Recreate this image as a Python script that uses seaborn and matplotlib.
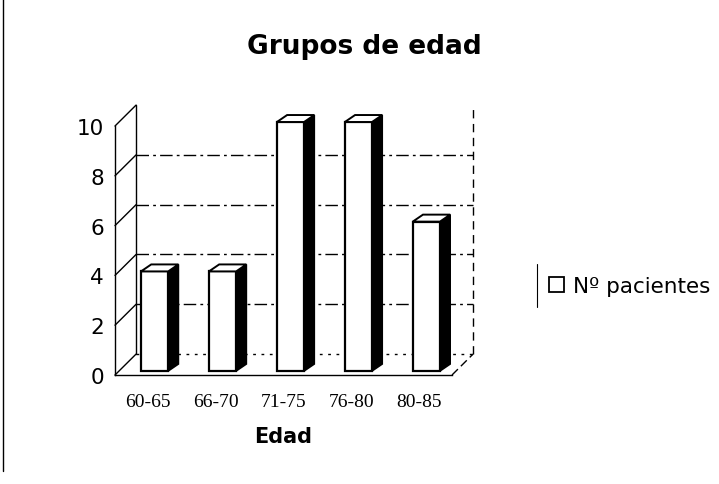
import matplotlib
matplotlib.use('Agg')
import matplotlib.pyplot as plt
import matplotlib.transforms as mtransforms
import seaborn as sns
import pandas as pd
from matplotlib.patches import Polygon, Patch
from matplotlib.lines import Line2D

# datos
categorias = ['60-65', '66-70', '71-75', '76-80', '80-85']
pacientes = [4, 4, 10, 10, 6]
yticks = [0, 2, 4, 6, 8, 10]

sns.set_style('white')
plt.rcParams['font.family'] = ['DejaVu Sans']
for k in ['text.color', 'axes.labelcolor', 'xtick.color', 'ytick.color']:
    plt.rcParams[k] = 'black'

fig = plt.figure(figsize=(7.19, 4.85), dpi=100)
ax = fig.add_axes([115 / 719, 109 / 485, 337 / 719, 249 / 485])

df = pd.DataFrame({'Edad': categorias, 'Nº pacientes': pacientes})
sns.barplot(data=df, x='Edad', y='Nº pacientes', color='white', saturation=1,
            edgecolor='black', linewidth=1.6, width=0.4, ax=ax, zorder=3)

xmin, xmax = -0.48, 4.48
ax.set_xlim(xmin, xmax)
ax.set_ylim(0, 10)

# profundidad de las paredes (unidades de datos)
dxw, dyw = 0.31, 0.84
# profundidad de las barras
dxb, dyb = 0.15, 0.28

kw = dict(color='black', clip_on=False)
# pared del fondo con lineas de division
for y in yticks:
    if y < 10:
        ls = (0, (9, 3, 2, 3)) if y > 0 else (0, (2, 4))
        ax.plot([xmin + dxw, xmax + dxw], [y + dyw, y + dyw], lw=1.0, ls=ls, zorder=1, **kw)
    ax.plot([xmin, xmin + dxw], [y, y + dyw], lw=1.0, zorder=1, **kw)
ax.plot([xmin + dxw, xmin + dxw], [dyw, 10 + dyw], lw=1.0, zorder=1, **kw)
ax.plot([xmax + dxw, xmax + dxw], [dyw, 10 + dyw], lw=1.0, ls=(0, (6, 4)), zorder=1, **kw)
ax.plot([xmax, xmax + dxw], [0, dyw], lw=1.0, ls=(0, (6, 3)), zorder=1, **kw)

# las barras van un poco hacia el fondo
tr = mtransforms.offset_copy(ax.transData, fig=fig, x=7, y=4, units='dots')
for p in list(ax.patches):
    x0, w, h = p.get_x(), p.get_width(), p.get_height()
    p.set_transform(tr)
    p.set_clip_on(False)
    side = [(x0 + w, 0), (x0 + w, h), (x0 + w + dxb, h + dyb), (x0 + w + dxb, dyb)]
    top = [(x0, h), (x0 + w, h), (x0 + w + dxb, h + dyb), (x0 + dxb, h + dyb)]
    ax.add_patch(Polygon(side, closed=True, facecolor='black', edgecolor='black', lw=1.2,
                         zorder=2.5, transform=tr, clip_on=False))
    ax.add_patch(Polygon(top, closed=True, facecolor='white', edgecolor='black', lw=1.4,
                         zorder=3.5, transform=tr, clip_on=False))

sns.despine(ax=ax, top=True, right=True)
for s in ['left', 'bottom']:
    ax.spines[s].set_linewidth(1.0)
    ax.spines[s].set_color('black')

ax.set_yticks(yticks)
ax.set_yticklabels([str(v) for v in yticks], fontsize=15.5)
ax.tick_params(axis='y', length=0, pad=8)
ax.set_xticks(range(len(categorias)))
ax.set_xticklabels(categorias, fontsize=14, family=['Liberation Serif'])
ax.tick_params(axis='x', length=0, pad=13)
ax.set_ylabel('')
ax.set_xlabel('Edad', fontsize=15, fontweight='bold')
ax.xaxis.set_label_coords(0.5, -0.205)

fig.text(364 / 719, 1 - 47 / 485, 'Grupos de edad', ha='center', va='center',
         fontsize=19, fontweight='bold')

fig.legend(handles=[Patch(facecolor='white', edgecolor='black', lw=1.3)],
           labels=['Nº pacientes'], loc='center left',
           bbox_to_anchor=(549 / 719, 1 - 287 / 485), frameon=False,
           borderpad=0, borderaxespad=0,
           fontsize=15.5, handlelength=0.7, handleheight=0.7, handletextpad=0.4)
fig.add_artist(Line2D([537 / 719, 537 / 719], [1 - 265 / 485, 1 - 308 / 485],
                      transform=fig.transFigure, color='black', lw=0.8))

# borde izquierdo del area del grafico
fig.add_artist(Line2D([3 / 719, 3 / 719], [1, 1 - 472 / 485],
                      transform=fig.transFigure, color='black', lw=1.0))

fig.savefig('out.png', dpi=100)
